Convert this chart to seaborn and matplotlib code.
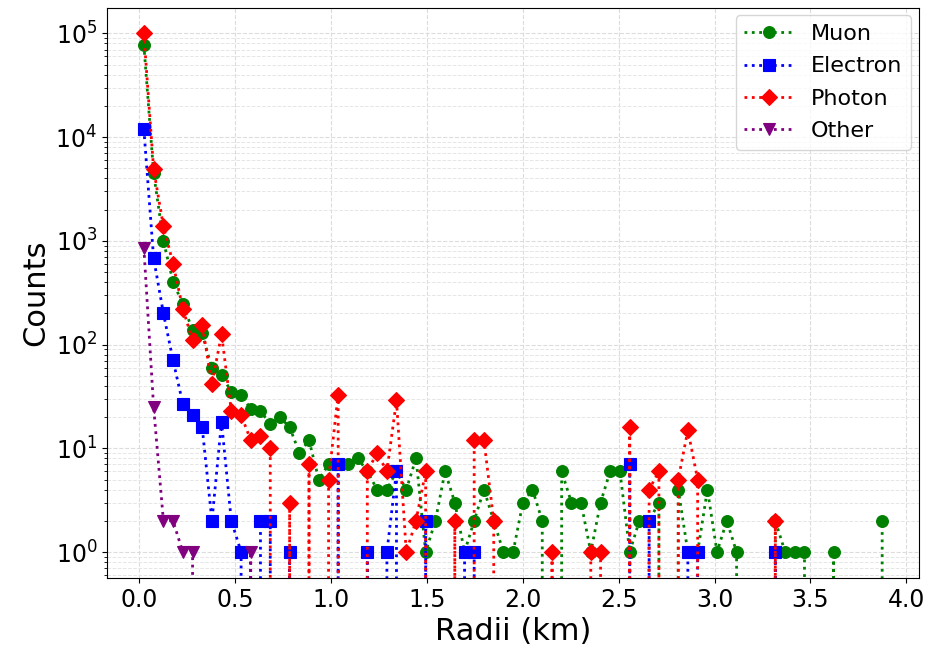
import numpy as np
import pandas as pd
import matplotlib
matplotlib.use("Agg")
import matplotlib.pyplot as plt
import seaborn as sns

# Bin centres (km)
radii = [0.025, 0.076, 0.127, 0.177, 0.228, 0.279, 0.329, 0.380, 0.430, 0.481,
         0.532, 0.582, 0.633, 0.684, 0.734, 0.785, 0.836, 0.886, 0.937, 0.988,
         1.038, 1.089, 1.140, 1.190, 1.241, 1.292, 1.342, 1.393, 1.444, 1.494,
         1.545, 1.595, 1.646, 1.697, 1.747, 1.798, 1.849, 1.899, 1.950, 2.001,
         2.051, 2.102, 2.153, 2.203, 2.254, 2.304, 2.355, 2.406, 2.456, 2.507,
         2.558, 2.608, 2.659, 2.710, 2.760, 2.811, 2.861, 2.912, 2.963, 3.013,
         3.064, 3.115, 3.165, 3.216, 3.267, 3.317, 3.368, 3.419, 3.469, 3.520,
         3.570, 3.621, 3.672, 3.722, 3.773, 3.824, 3.874]

muon = [78000, 4500, 1000, 405, 245, 138, 128, 59, 51, 35,
        33, 24, 23, 17, 20, 16, 9, 12, 5, 7,
        7, 7, 8, 6, 4, 4, 6, 4, 8, 1,
        2, 6, 3, 1, 2, 4, 2, 1, 1, 3,
        4, 2, 0, 6, 3, 3, 1, 3, 6, 6,
        1, 2, 2, 3, 0, 4, 1, 1, 4, 1,
        2, 1, 0, 0, 0, 2, 1, 1, 1, 0,
        0, 1, 0, 0, 0, 0, 2]

electron = [12000, 680, 200, 71, 27, 21, 16, 2, 18, 2,
            1, 0, 2, 2, 0, 1, 0, 0, 0, 0,
            7, 0, 0, 1, 0, 1, 6, 0, 0, 2,
            0, 0, 0, 1, 1, 0, 0, 0, 0, 0,
            0, 0, 0, 0, 0, 0, 0, 0, 0, 0,
            7, 0, 2, 0, 0, 0, 1, 1, 0, 0,
            0, 0, 0, 0, 0, 1, 0, 0, 0, 0,
            0, 0, 0, 0, 0, 0, 0]

photon = [100000, 4900, 1380, 605, 222, 110, 154, 42, 126, 23,
          21, 12, 13, 10, 0, 3, 0, 7, 0, 5,
          33, 0, 0, 6, 9, 6, 29, 1, 2, 6,
          0, 0, 2, 0, 12, 12, 2, 0, 0, 0,
          0, 0, 1, 0, 0, 0, 1, 1, 0, 0,
          16, 0, 4, 6, 0, 5, 15, 5, 0, 0,
          0, 0, 0, 0, 0, 2, 0, 0, 0, 0,
          0, 0, 0, 0, 0, 0, 0]

other = [860, 25, 2, 2, 1, 1, 0, 0, 0, 0,
         0, 1, 0, 0, 0, 0, 0, 0, 0, 0,
         0, 0, 0, 0, 0, 0, 0, 0, 0, 0,
         0, 0, 0, 0, 0, 0, 0, 0, 0, 0,
         0, 0, 0, 0, 0, 0, 0, 0, 0, 0,
         0, 0, 0, 0, 0, 0, 0, 0, 0, 0,
         0, 0, 0, 0, 0, 0, 0, 0, 0, 0,
         0, 0, 0, 0, 0, 0, 0]

series_names = ["Muon", "Electron", "Photon", "Other"]
series_values = [muon, electron, photon, other]
colors = ["green", "blue", "red", "purple"]
markers = ["o", "s", "D", "v"]

df = pd.DataFrame({
    "Radii (km)": np.tile(radii, len(series_names)),
    "Counts": np.concatenate(series_values),
    "Particle": np.repeat(series_names, len(radii)),
})

fig = plt.figure(figsize=(9.33, 6.59), dpi=100)
ax = fig.add_axes([0.1147, 0.123, 0.8705, 0.8656])

for name, col, mk in zip(series_names, colors, markers):
    sub = df[df["Particle"] == name]
    sns.lineplot(data=sub, x="Radii (km)", y="Counts", ax=ax, color=col,
                 marker=mk, markersize=8.5, markeredgecolor=col,
                 markeredgewidth=0.8, linestyle=":", linewidth=2,
                 label=name, estimator=None, errorbar=None, sort=True)

ax.set_yscale("log")
ax.set_ylim(10 ** -0.25, 10 ** 5.25)
ax.set_xlim(-0.167, 4.067)
ax.set_xticks([0.0, 0.5, 1.0, 1.5, 2.0, 2.5, 3.0, 3.5, 4.0])

ax.grid(True, which="major", linestyle="--", color="#dcdcdc", linewidth=0.8)
ax.grid(True, which="minor", linestyle="--", color="#e6e6e6", linewidth=0.7)
ax.set_axisbelow(True)

ax.set_xlabel("Radii (km)", fontsize=22)
ax.set_ylabel("Counts", fontsize=22)
ax.tick_params(axis="both", which="major", labelsize=17)

ax.legend(loc="upper right", fontsize=16, borderaxespad=0.35,
          labelspacing=0.55, handlelength=2.2)

fig.savefig("out.png", dpi=100)
